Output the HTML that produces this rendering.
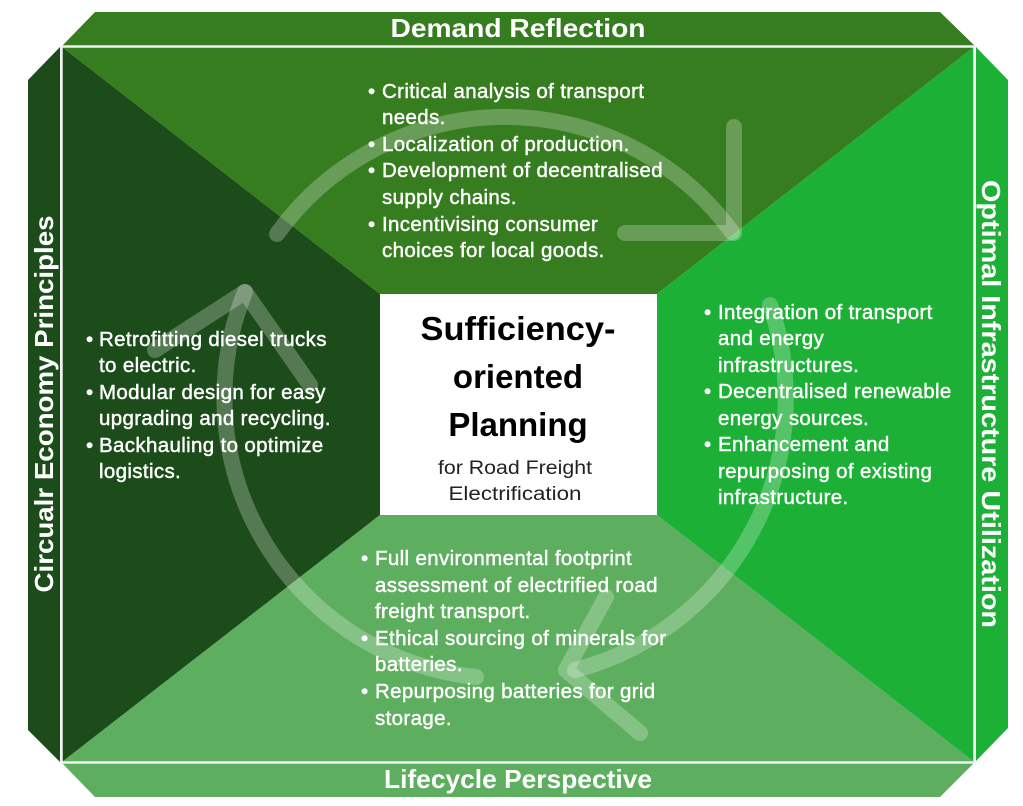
<!DOCTYPE html>
<html><head><meta charset="utf-8"><style>
html,body{margin:0;padding:0;background:#fff;}
svg{display:block;}
text{font-family:"Liberation Sans",sans-serif;}
.w{fill:#fff;font-size:20.5px;stroke:#fff;stroke-width:0.45;letter-spacing:0.35px;}
.t{fill:#fff;font-size:26px;font-weight:bold;}
</style></head><body>
<svg width="1023" height="806" viewBox="0 0 1023 806" xmlns="http://www.w3.org/2000/svg">
<polygon points="95,12 940,12 975,46 62,46" fill="#367d1f"/>
<polygon points="62,763 974,763 940,797 95,797" fill="#5dae5e"/>
<polygon points="28,80 60,47 60,762 28,730" fill="#1c4c1a"/>
<polygon points="976,47 1008,80 1008,728 976,761" fill="#1cb036"/>
<polygon points="62,47 974,47 657,294 380,294" fill="#367d1f"/>
<polygon points="62,47 380,294 380,515 62,762" fill="#1c4c1a"/>
<polygon points="974,47 974,762 657,515 657,294" fill="#1cb036"/>
<polygon points="62,762 380,515 657,515 974,762" fill="#5dae5e"/>
<rect x="61.5" y="46.5" width="913" height="716" fill="none" stroke="#f0f0f0" stroke-width="2.5"/>
<g fill="none" stroke="rgba(255,255,255,0.25)" stroke-width="16" stroke-linecap="round" stroke-linejoin="round">
<path d="M277,234 A281,281 0 0 1 732,232"/>
<polyline points="734,127 734,233 625,233"/>
<path d="M770,305 A281,281 0 0 1 575,670"/>
<polyline points="606,597 566,670 640,733"/>
<path d="M476,677 A281,281 0 0 1 245,292"/>
<polyline points="155,350 245,292 310,385"/>
</g>
<rect x="380" y="294" width="277" height="221" fill="#fff"/>
<g text-anchor="middle" fill="#000">
<text x="518" y="340" font-size="33" font-weight="bold" textLength="195" lengthAdjust="spacingAndGlyphs">Sufficiency-</text>
<text x="518" y="388" font-size="33" font-weight="bold">oriented</text>
<text x="518" y="436" font-size="33" font-weight="bold">Planning</text>
<text x="515" y="474" font-size="19" fill="#222" textLength="154" lengthAdjust="spacingAndGlyphs">for Road Freight</text>
<text x="515" y="500" font-size="19" fill="#222" textLength="133" lengthAdjust="spacingAndGlyphs">Electrification</text>
</g>
<text class="t" x="518" y="37" text-anchor="middle" textLength="255" lengthAdjust="spacingAndGlyphs">Demand Reflection</text>
<text class="t" x="518" y="788" text-anchor="middle" textLength="268" lengthAdjust="spacingAndGlyphs">Lifecycle Perspective</text>
<text class="t" transform="translate(53,404) rotate(-90)" text-anchor="middle" textLength="377" lengthAdjust="spacingAndGlyphs">Circualr Economy Principles</text>
<text class="t" transform="translate(982,404) rotate(90)" text-anchor="middle" textLength="448" lengthAdjust="spacingAndGlyphs">Optimal Infrastructure Utilization</text>
<g class="w">
<text x="368" y="98">•</text><text x="382" y="98">Critical analysis of transport</text>
<text x="382" y="124">needs.</text>
<text x="368" y="151">•</text><text x="382" y="151">Localization of production.</text>
<text x="368" y="177">•</text><text x="382" y="177">Development of decentralised</text>
<text x="382" y="204">supply chains.</text>
<text x="368" y="231">•</text><text x="382" y="231">Incentivising consumer</text>
<text x="382" y="257">choices for local goods.</text>
</g>
<g class="w">
<text x="86" y="346">•</text><text x="99" y="346">Retrofitting diesel trucks</text>
<text x="99" y="372">to electric.</text>
<text x="86" y="399">•</text><text x="99" y="399">Modular design for easy</text>
<text x="99" y="425">upgrading and recycling.</text>
<text x="86" y="452">•</text><text x="99" y="452">Backhauling to optimize</text>
<text x="99" y="478">logistics.</text>
</g>
<g class="w">
<text x="704" y="319">•</text><text x="718" y="319">Integration of transport</text>
<text x="718" y="345">and energy</text>
<text x="718" y="372">infrastructures.</text>
<text x="704" y="398">•</text><text x="718" y="398">Decentralised renewable</text>
<text x="718" y="425">energy sources.</text>
<text x="704" y="451">•</text><text x="718" y="451">Enhancement and</text>
<text x="718" y="478">repurposing of existing</text>
<text x="718" y="504">infrastructure.</text>
</g>
<g class="w">
<text x="361" y="565">•</text><text x="375" y="565">Full environmental footprint</text>
<text x="375" y="592">assessment of electrified road</text>
<text x="375" y="618">freight transport.</text>
<text x="361" y="645">•</text><text x="375" y="645">Ethical sourcing of minerals for</text>
<text x="375" y="671">batteries.</text>
<text x="361" y="698">•</text><text x="375" y="698">Repurposing batteries for grid</text>
<text x="375" y="725">storage.</text>
</g>
</svg>
</body></html>
